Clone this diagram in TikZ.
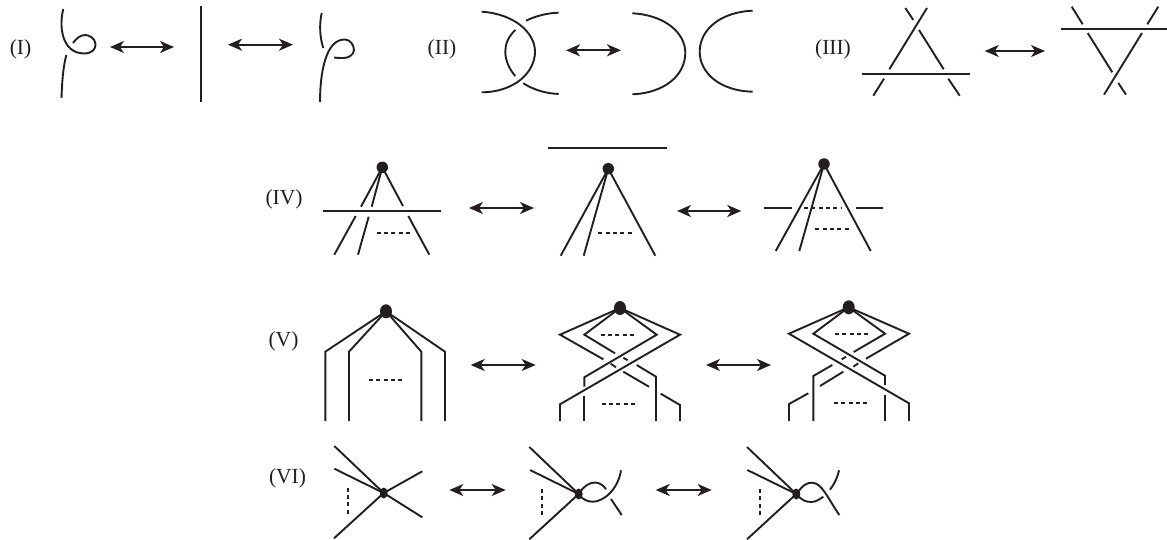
\documentclass[tikz,border=0pt]{standalone}
\usepackage{fontspec}
\setmainfont{Liberation Serif}
\usetikzlibrary{arrows.meta,shapes.geometric}
\definecolor{ink}{HTML}{231F20}
\tikzset{
  strand/.style={line width=1.9pt,draw=ink},
  heavy/.style={line width=2.1pt,draw=ink},
  dots/.style={line width=1.9pt,draw=ink,dash pattern=on 4pt off 3.3pt},
  dblarrow/.style={line width=1.9pt,draw=ink,{Stealth[length=14pt,width=12pt,inset=4pt]}-{Stealth[length=14pt,width=12pt,inset=4pt]}},
  lab/.style={text=ink,font=\fontsize{21.5pt}{23pt}\selectfont,inner sep=0pt},
  vtx/.style={ellipse,fill=ink,draw=none,inner sep=0pt,minimum width=11.5pt,minimum height=11.5pt},
  vtxb/.style={ellipse,fill=ink,draw=none,inner sep=0pt,minimum width=12pt,minimum height=14pt},
  vtxc/.style={ellipse,fill=ink,draw=none,inner sep=0pt,minimum width=8pt,minimum height=11pt}
}
\newcommand{\dblarrow}[4]{\coordinate (#1a) at (#2,#4); \coordinate (#1b) at (#3,#4); \draw[dblarrow] (#1a) -- (#1b);}
\begin{document}
\begin{tikzpicture}[x=1pt,y=-1pt]
\useasboundingbox (0,0) rectangle (1167,540);
% labels
\node[lab] (l1) at (20.5,49) {(I)};
\node[lab] (l2) at (442,49) {(II)};
\node[lab] (l3) at (833,49) {(III)};
\node[lab] (l4) at (284,199) {(IV)};
\node[lab] (l5) at (283.5,341) {(V)};
\node[lab] (l6) at (287.5,478) {(VI)};
% arrows
\dblarrow{a1}{110}{174}{47}
\dblarrow{a2}{228}{293}{44.7}
\dblarrow{a3}{566}{621}{50.3}
\dblarrow{a4}{984.7}{1045}{51}
\dblarrow{a5}{469}{534}{208}
\dblarrow{a6}{677}{741.3}{211}
\dblarrow{a7}{470.7}{535.7}{365}
\dblarrow{a8}{706}{771}{365}
\dblarrow{a9}{449.3}{505.7}{490}
\dblarrow{a10}{655.7}{711.7}{490}
% (I)
\draw[strand] (63.3,9) .. controls (59,25) and (61,53) .. (84,53.5) .. controls (92,53.5) and (96,49) .. (95.5,44) .. controls (95,38) and (89,35) .. (85,35) .. controls (80,35) and (76,39) .. (73,43);
\draw[strand] (66.3,55) .. controls (63,68) and (62,82) .. (61.5,98);
\draw[heavy] (201,6) -- (201,102);
\draw[strand] (321.7,13) .. controls (319,25) and (320,38) .. (323.3,48);
\draw[strand] (320,102) .. controls (320,75) and (325,39) .. (345,39.5) .. controls (350,39.5) and (354,45) .. (354,50) .. controls (354,55) and (348,58) .. (344,58) .. controls (341,58) and (337,58) .. (334,57.5);
% (II)
\draw[strand] (481.7,11.7) .. controls (515,14) and (535,33) .. (535,51.7) .. controls (535,72) and (515,92) .. (481.7,92.3);
\draw[strand] (526,20.7) .. controls (536,16) and (547,13) .. (558.7,12.7);
\draw[strand] (515.3,30) .. controls (508,37) and (505.3,44) .. (505.3,51.7) .. controls (505.3,60) and (509,69) .. (515.3,76);
\draw[strand] (523.3,83.3) .. controls (534,90) and (546,93.5) .. (558.7,94);
\draw[strand] (632.3,13.3) .. controls (665,15) and (685.3,33) .. (685.3,52.7) .. controls (685.3,75) and (665,93) .. (632.3,94.3);
\draw[strand] (752.7,10.7) .. controls (720,12) and (699.7,30) .. (699.7,51.7) .. controls (699.7,73) and (720,91) .. (752.7,91.7);
% (III)
\draw[strand] (905.3,8) -- (913.3,20);
\draw[strand] (927,8) -- (889.3,69.3);
\draw[strand] (919,30) -- (943.7,69.3);
\draw[strand] (862.3,73.7) -- (970.3,73.7);
\draw[strand] (884,78.7) -- (873.3,95.7);
\draw[strand] (948.3,78.7) -- (959.7,95.7);
\draw[strand] (1071.7,6.7) -- (1082.7,24.3);
\draw[strand] (1158.3,6.7) -- (1147.3,24.3);
\draw[strand] (1061,28.7) -- (1167,28.7);
\draw[strand] (1087.7,33) -- (1112.3,72.3);
\draw[strand] (1142,33) -- (1104,94.7);
\draw[strand] (1118.3,83) -- (1126,94.7);
% (IV)
\node[vtx] (d1) at (382.3,167.3) {};
\draw[strand] (d1.center) -- (361,206.7);
\draw[strand] (d1.center) -- (371.7,206.7);
\draw[strand] (d1.center) -- (403,206);
\draw[strand] (322.7,211.3) -- (441.3,211.3);
\draw[strand] (355.7,216) -- (334.3,254.7);
\draw[strand] (368.7,216.7) -- (358,254.7);
\draw[strand] (408.3,216) -- (429.3,254.7);
\draw[dots] (376.7,233) -- (411.7,233);
\draw[strand] (548.3,147.7) -- (667.3,147.7);
\node[vtx] (d2) at (608.3,168.7) {};
\draw[strand] (d2.center) -- (560.7,255.7);
\draw[strand] (d2.center) -- (583.7,255.7);
\draw[strand] (d2.center) -- (655.3,255.7);
\draw[dots] (598.3,233) -- (632.3,233);
\node[vtx] (d3) at (824,164) {};
\draw[strand] (d3.center) -- (775.7,251);
\draw[strand] (d3.center) -- (799.3,251);
\draw[strand] (d3.center) -- (870.7,251);
\draw[strand] (764,208) -- (792,208);
\draw[dots] (804,208) -- (841.7,208);
\draw[strand] (855.7,208) -- (882.7,208);
\draw[dots] (815.3,229.3) -- (849.3,229.3);
% (V)
\node[vtxb] (d4) at (386,311.3) {};
\draw[strand] (d4.center) -- (325.3,351.7) -- (325.3,421);
\draw[strand] (d4.center) -- (349,351.7) -- (349,421);
\draw[strand] (d4.center) -- (421.3,351.7) -- (421.3,421);
\draw[strand] (d4.center) -- (445,351.7) -- (445,421);
\draw[dots] (369,379.7) -- (402.7,379.7);
\node[vtxb] (d5) at (620,308) {};
\draw[strand] (d5.center) -- (560,334.7) -- (603.3,359.3);
\draw[strand] (610.7,363.7) -- (616,367.3);
\draw[strand] (623.3,371.7) -- (649,386.7);
\draw[strand] (660.7,393.7) -- (680,405) -- (680,421);
\draw[strand] (d5.center) -- (584.3,334.7) -- (615,353.3);
\draw[strand] (623.3,357.7) -- (627.7,360.3);
\draw[strand] (636.7,365) -- (656,376.7) -- (656,421);
\draw[strand] (d5.center) -- (656.7,334.7) -- (584.3,377.3) -- (584.3,386.7);
\draw[strand] (584.3,396) -- (584.3,421);
\draw[strand] (d5.center) -- (680,334.7) -- (560,404.3) -- (560,421);
\draw[dots] (600.7,334.7) -- (634.3,334.7);
\draw[dots] (601.7,403.7) -- (635.7,403.7);
\node[vtxb] (d6) at (848.7,307.3) {};
\draw[strand] (d6.center) -- (789,333.7) -- (909,403.3) -- (909,421);
\draw[strand] (d6.center) -- (813.3,333.7) -- (885,375.7) -- (885,385);
\draw[strand] (885,395) -- (885,421);
\draw[strand] (d6.center) -- (885,333.7) -- (853.7,352);
\draw[strand] (846,356.7) -- (841.7,359.3);
\draw[strand] (832.3,365) -- (813.3,376) -- (813.3,421);
\draw[strand] (d6.center) -- (909,333.7) -- (866,358.7);
\draw[strand] (858.3,363.3) -- (853.3,366.7);
\draw[strand] (843.3,371.7) -- (820,386);
\draw[strand] (808.3,393.3) -- (789,404) -- (789,421);
\draw[dots] (835,333.7) -- (869,333.7);
\draw[dots] (834,402.7) -- (868.3,402.7);
% (VI)
\node[vtxc] (d7) at (383.7,493) {};
\draw[strand] (d7.center) -- (334.3,446);
\draw[strand] (d7.center) -- (334.3,468.7);
\draw[strand] (d7.center) -- (334,538.3);
\draw[strand] (d7.center) -- (422.3,471.3);
\draw[strand] (d7.center) -- (422.3,517.3);
\draw[dots] (347.7,487.7) -- (347.7,514.3);
\node[vtxc] (d8) at (578.7,494) {};
\draw[strand] (d8.center) -- (529.3,447);
\draw[strand] (d8.center) -- (530,470);
\draw[strand] (d8.center) -- (529.3,539.3);
\draw[dots] (542.3,489) -- (542.3,515);
\draw[strand] (580,493) .. controls (583,486) and (590,482.5) .. (595,482.5) .. controls (600,482.5) and (604,486) .. (606,489.3);
\draw[strand] (580,496) .. controls (584,500) and (588,501.7) .. (593,501.7) .. controls (603,501.7) and (618,490) .. (621,470.3);
\draw[strand] (611,499) -- (621.7,515);
\node[vtxc] (d9) at (796.3,494) {};
\draw[strand] (d9.center) -- (747,447);
\draw[strand] (d9.center) -- (747.3,470);
\draw[strand] (d9.center) -- (747,539.3);
\draw[dots] (760,489) -- (760,515);
\draw[strand] (798,493) .. controls (801,486) and (807,482.5) .. (812,482.7) .. controls (822,483) and (827,497) .. (839.3,515);
\draw[strand] (798,496) .. controls (802,500) and (806,502) .. (811,502) .. controls (816,502) and (820,499) .. (823.3,496.7);
\draw[strand] (830,489.7) .. controls (835,483) and (838,476) .. (839,470.3);
\end{tikzpicture}
\end{document}
